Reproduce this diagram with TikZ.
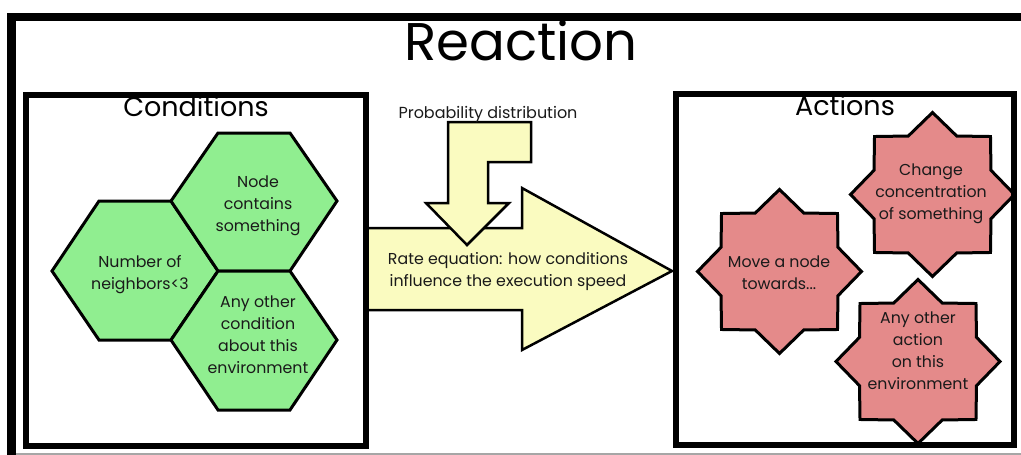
\documentclass[tikz,border=0pt]{standalone}
\usepackage{fontspec}
\setmainfont{Poppins}
\definecolor{hexgreen}{HTML}{90EE90}
\definecolor{starred}{HTML}{E48A8A}
\definecolor{arrowyellow}{HTML}{FAFBC0}
\definecolor{ink}{HTML}{1A1A1A}
\tikzset{
  outerframe/.style={line width=8.5pt, line cap=butt},
  panel/.style={draw=black, line width=6pt, inner sep=0pt},
  hexcell/.style={draw=black, fill=hexgreen, line width=3pt, line join=miter},
  starcell/.style={draw=black, fill=starred, line width=3pt, line join=miter},
  yarrow/.style={draw=black, fill=arrowyellow, line width=2.5pt, line join=miter},
  body/.style={font=\fontsize{15.8}{22}\selectfont, align=center, text=ink, inner sep=0pt},
  paneltitle/.style={font=\fontsize{27}{30}\selectfont, text=black, inner sep=0pt},
  bigtitle/.style={font=\fontsize{53}{56}\selectfont, text=black, inner sep=0pt},
  octo/.pic={
    \path[starcell] (0:82) -- (22.5:63.3) -- (45:82) -- (67.5:63.3) -- (90:82)
      -- (112.5:63.3) -- (135:82) -- (157.5:63.3) -- (180:82) -- (202.5:63.3)
      -- (225:82) -- (247.5:63.3) -- (270:82) -- (292.5:63.3) -- (315:82)
      -- (337.5:63.3) -- cycle;
  }
}
\begin{document}
\begin{tikzpicture}[x=1pt,y=-1pt]
\useasboundingbox (0,0) rectangle (1021,455);
\clip (0,0) rectangle (1021,455);

% outer frame (runs off the page)
\coordinate (ofbl) at (11.5,470);
\coordinate (oftl) at (11.5,17);
\coordinate (oftr) at (1040,17);
\draw[outerframe] (ofbl) -- (oftl) -- (oftr);
\coordinate (gl) at (16,454);
\coordinate (gr) at (1030,454);
\draw[black!35, line width=1.2pt] (gl) -- (gr);

\node[bigtitle] (reaction) at (521,41) {Reaction};

% hexagons (conditions)
\path[hexcell] (52,271) -- (99,201) -- (171,201) -- (218,271) -- (171,340) -- (99,340) -- cycle;
\path[hexcell] (171,201) -- (218,133) -- (290,133) -- (337,201) -- (290,271) -- (218,271) -- cycle;
\path[hexcell] (171,340) -- (218,271) -- (290,271) -- (337,340) -- (290,410) -- (218,410) -- cycle;
\node[body] (h1) at (140,274.5) {Number of\\neighbors<3};
\node[body] (h2) at (258,205.5) {Node\\contains\\something};
\node[body] (h3) at (258,334.5) {Any other\\condition\\about this\\environment};

% stars (actions)
\pic at (932.5,194.5) {octo};
\pic at (779.5,271.5) {octo};
\pic at (918,361.5) {octo};
\node[body] (s1) at (931,194) {Change\\concentration\\of something};
\node[body] (s2) at (779,273) {Move a node\\towards...};
\node[body] (s3) at (918,351) {Any other\\action\\on this\\environment};

% big right arrow
\path[yarrow] (366,228) -- (522,228) -- (522,188) -- (672,271) -- (522,350) -- (522,310) -- (366,310) -- cycle;
% bent down arrow
\path[yarrow] (448,122) -- (531,122) -- (531,162) -- (488,162) -- (488,203) -- (509,203)
  -- (467,245) -- (426,203) -- (448,203) -- cycle;

\node[body] (rate) at (508,271.5) {Rate equation: how conditions\\influence the execution speed};
\node[font=\fontsize{16}{18}\selectfont, text=ink, inner sep=0pt] (prob) at (488,114) {Probability distribution};

% panels
\node[panel, minimum width=340pt, minimum height=351pt] (cond) at (196,270.5) {};
\node[panel, minimum width=338pt, minimum height=351pt] (act) at (845,269.5) {};
\node[paneltitle] (condtitle) at (196,106) {Conditions};
\node[paneltitle] (acttitle) at (845,105) {Actions};
\end{tikzpicture}
\end{document}
